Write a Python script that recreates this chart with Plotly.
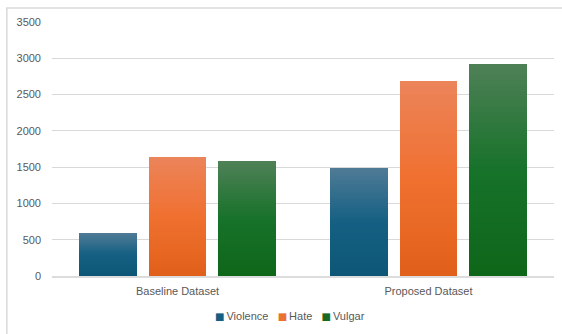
import plotly.graph_objects as go

categories = ["Baseline Dataset", "Proposed Dataset"]
series_names = ["Violence", "Hate", "Vulgar"]
violence = [590, 1490]
hate = [1640, 2690]
vulgar = [1580, 2920]
y_ticks = [0, 500, 1000, 1500, 2000, 2500, 3000, 3500]

values = {"Violence": violence, "Hate": hate, "Vulgar": vulgar}
# gradient stops: bottom, middle (base), top
stops = {
    "Violence": ["#0d5677", "#156082", "#4f7b97"],
    "Hate": ["#e0601a", "#f07030", "#ec845a"],
    "Vulgar": ["#0e6619", "#17722a", "#4f8057"],
}
legend_colors = {"Violence": "#156082", "Hate": "#e97132", "Vulgar": "#196b24"}

# bar geometry in category units (style)
bar_width = 0.229
bar_gap = 0.048
offsets = {
    "Violence": -1.5 * bar_width - bar_gap,
    "Hate": -0.5 * bar_width,
    "Vulgar": 0.5 * bar_width + bar_gap,
}


def hex2rgb(h):
    h = h.lstrip("#")
    return [int(h[i:i + 2], 16) for i in (0, 2, 4)]


def interp(cols, t):
    c0, c1, c2 = [hex2rgb(c) for c in cols]
    if t <= 0.5:
        a, b, f = c0, c1, t / 0.5
    else:
        a, b, f = c1, c2, (t - 0.5) / 0.5
    r = [round(a[i] + (b[i] - a[i]) * f) for i in range(3)]
    return "rgb(%d,%d,%d)" % tuple(r)


N = 40
fig = go.Figure()
for name in series_names:
    v = values[name]
    for k in range(N):
        frac = (N - k) / N
        t = (N - k - 0.5) / N
        fig.add_trace(go.Bar(
            x=categories,
            y=[val * frac for val in v],
            name=name,
            width=bar_width,
            offset=offsets[name],
            marker=dict(color=interp(stops[name], t), line=dict(width=0)),
            showlegend=False,
            hoverinfo="skip",
        ))

font_family = "Liberation Sans, Arial, sans-serif"
text_color = "#595959"

fig.update_layout(
    width=562,
    height=334,
    margin=dict(l=52, r=8, t=22, b=58),
    paper_bgcolor="white",
    plot_bgcolor="white",
    barmode="overlay",
    bargap=0,
    bargroupgap=0,
    font=dict(family=font_family, size=11, color=text_color),
    showlegend=False,
)
fig.update_yaxes(
    range=[0, 3500],
    tickvals=y_ticks,
    ticktext=[str(t) for t in y_ticks],
    showgrid=True,
    gridcolor="#d9d9d9",
    gridwidth=1,
    zeroline=False,
    showline=False,
    ticks="",
    ticklabelstandoff=10,
    tickfont=dict(size=11, color=text_color),
)
fig.update_xaxes(
    showline=True,
    linecolor="rgba(205,205,205,0.7)",
    linewidth=1.5,
    ticks="",
    ticklabelstandoff=4,
    tickfont=dict(size=11, color=text_color),
)

# chart area border (extends beyond the visible window)
fig.add_shape(
    type="rect", xref="paper", yref="paper",
    x0=-0.09, x1=1.2, y0=-0.6, y1=1.055,
    line=dict(color="#d9d9d9", width=1.5),
    layer="below",
)

legend_text = "&nbsp;&nbsp;&nbsp;".join(
    "<span style='color:%s;font-family:DejaVu Sans;font-size:10px'>■\u2009</span>%s"
    % (legend_colors[n], n)
    for n in series_names
)
fig.add_annotation(
    text=legend_text, xref="paper", yref="paper",
    x=0.474, y=-0.157, xanchor="center", yanchor="middle",
    showarrow=False, font=dict(size=11, color=text_color, family=font_family),
)

fig.write_html("out.html")
